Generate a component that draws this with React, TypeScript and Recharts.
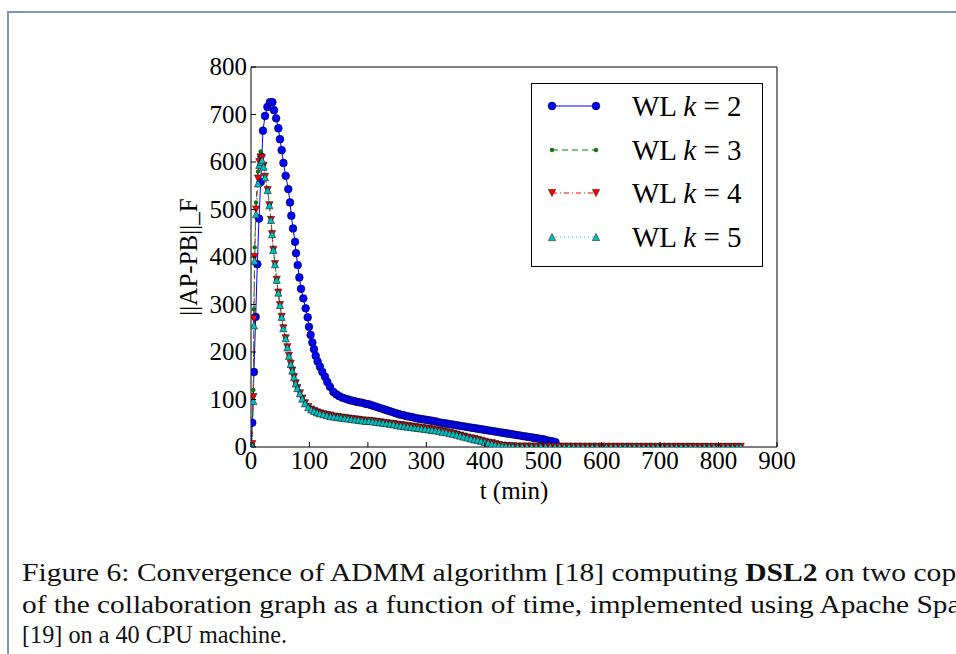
import React from 'react';
import { LineChart, Line, XAxis, YAxis, Legend } from 'recharts';

const xTicks = [0, 100, 200, 300, 400, 500, 600, 700, 800, 900];
const yTicks = [0, 100, 200, 300, 400, 500, 600, 700, 800];

const seriesK = ['2', '3', '4', '5'];

// k = 2 : [t (min), ||AP-PB||_F]
const k2: [number, number][] = [
  [0, 0], [2.2, 51], [5, 158], [8, 274], [10.8, 385], [13.7, 481], [16.6, 558], [20.5, 666], [24, 697], [28, 716],
  [32.5, 726], [36.5, 726], [39.4, 709], [43, 692], [46.8, 671], [49.6, 648], [52.5, 625], [55.5, 598], [59.4, 571], [63.8, 543],
  [66.7, 515], [69, 487], [71.9, 460], [75.3, 432], [77, 408], [79.9, 383], [82.7, 357], [85.6, 333], [89.5, 313], [93.5, 292],
  [97, 273], [99.2, 253], [102, 236], [105, 220], [107.8, 206], [110.7, 192], [114, 180], [118, 169], [122, 158], [126.6, 148],
  [130.6, 137], [135, 127], [141, 116], [146, 111], [151, 107], [156, 104], [161, 102], [166, 100], [171, 98], [176, 97],
  [181, 95], [186, 94], [191, 93], [196, 91], [201, 90], [206, 88], [211, 86], [216, 84], [221, 82], [226, 80],
  [231, 78], [236, 76], [241, 74], [246, 72], [251, 70], [256, 68], [261, 67], [266, 65], [271, 64], [276, 63],
  [281, 61], [286, 60], [291, 59], [296, 58], [301, 57], [306, 56], [311, 55], [316, 54], [321, 52], [326, 51],
  [331, 50], [336, 49], [341, 48], [346, 47], [351, 46], [356, 45], [361, 44], [366, 43], [371, 42], [376, 41],
  [381, 40], [386, 39], [391, 38], [396, 37], [401, 36], [406, 35], [411, 34], [416, 33], [421, 32], [426, 31],
  [431, 30], [436, 29], [441, 28], [446, 27], [451, 26], [456, 25], [461, 24], [466, 23], [471, 22], [476, 21],
  [481, 20], [486, 19], [491, 18], [496, 17], [501, 16], [506, 14], [511, 13], [516, 12], [521, 10],
];

// shared time stamps for k = 3, 4, 5
const tK = [
  0, 2, 4, 5, 6.3, 8.6, 12, 14.2, 16.6, 18.8,
  21.5, 24, 28.5, 31.4, 34.2, 36, 38.2, 41, 44, 46.8,
  49.6, 52.5, 55.3, 59.4, 62.2, 65, 68, 70.7, 73.6, 76.5,
  79.3, 83.8, 87.8, 92.4, 98, 103, 108, 113, 118, 124,
  130, 136, 142, 148, 154, 160, 166, 172, 178, 184,
  190, 196, 202, 208, 214, 220, 226, 232, 238, 244,
  250, 256, 262, 268, 274, 280, 286, 292, 298, 304,
  310, 316, 322, 328, 334, 340, 346, 352, 358, 364,
  370, 376, 382, 388, 394, 400, 406, 412, 418, 424,
  430, 436, 442, 448, 456, 464, 472, 480, 488, 496,
  504, 512, 520, 528, 536, 544, 552, 560, 568, 576,
  584, 592, 600, 608, 616, 624, 632, 640, 648, 656,
  664, 672, 680, 688, 696, 704, 712, 720, 728, 736,
  744, 752, 760, 768, 776, 784, 792, 800, 808, 816,
  824, 832, 838,
];

const v3 = [
  0, 8, 120, 290, 420, 515, 580, 612, 622, 615,
  595, 570, 541, 510, 478, 449, 416, 384, 352, 324,
  298, 273, 249, 228, 209, 191, 174, 160, 146, 133,
  123, 112, 101, 91, 83, 78, 75, 72, 70, 68,
  66, 65, 63, 62, 61, 60, 59, 58, 57, 56,
  56, 55, 54, 53, 52, 51, 50, 49, 48, 47,
  46, 45, 44, 43, 42, 41, 40, 39, 38, 37,
  36, 34, 33, 32, 30, 29, 27, 25, 23, 21,
  19, 17, 16, 14, 12, 10, 8, 7, 5, 4,
  3, 2, 1.4, 1.1, 1.0, 0.9, 0.9, 0.8, 0.8, 0.7,
  0.7, 0.7, 0.6, 0.6, 0.6, 0.6, 0.5, 0.5, 0.5, 0.5,
  0.5, 0.4, 0.4, 0.4, 0.4, 0.4, 0.4, 0.3, 0.3, 0.3,
  0.3, 0.3, 0.3, 0.3, 0.3, 0.3, 0.3, 0.3, 0.3, 0.3,
  0.3, 0.2, 0.2, 0.2, 0.2, 0.2, 0.2, 0.2, 0.2, 0.2,
  0.2, 0.2, 0.2,
];

const v4 = [
  0, 6, 105, 270, 400, 500, 565, 600, 610, 608,
  592, 569, 541, 509, 478, 448, 415, 385, 352, 325,
  299, 274, 250, 229, 210, 192, 175, 161, 147, 134,
  124, 113, 102, 92, 84, 79, 76, 73, 71, 69,
  67, 66, 64, 63, 62, 61, 60, 59, 58, 57,
  56, 55, 55, 54, 53, 52, 51, 50, 49, 48,
  47, 46, 45, 44, 43, 42, 41, 40, 39, 38,
  37, 35, 34, 33, 31, 30, 28, 26, 24, 22,
  20, 18, 17, 15, 13, 11, 9, 8, 6, 4,
  3, 2, 1.6, 1.3, 1.1, 1.0, 1.0, 0.9, 0.9, 0.8,
  0.8, 0.7, 0.7, 0.7, 0.6, 0.6, 0.6, 0.6, 0.5, 0.5,
  0.5, 0.5, 0.5, 0.4, 0.4, 0.4, 0.4, 0.4, 0.4, 0.3,
  0.3, 0.3, 0.3, 0.3, 0.3, 0.3, 0.3, 0.3, 0.3, 0.3,
  0.3, 0.3, 0.2, 0.2, 0.2, 0.2, 0.2, 0.2, 0.2, 0.2,
  0.2, 0.2, 0.2,
];

const v5 = [
  0, 3, 97, 256, 392, 490, 555, 594, 600, 604,
  590, 568, 541, 509, 478, 448, 415, 385, 352, 325,
  299, 274, 250, 229, 210, 192, 175, 161, 147, 134,
  124, 113, 102, 92, 84, 79, 76, 73, 71, 69,
  67, 65, 64, 63, 62, 61, 60, 59, 58, 57,
  56, 55, 55, 54, 53, 52, 51, 50, 49, 48,
  46, 45, 44, 43, 42, 41, 40, 39, 38, 37,
  36, 35, 34, 32, 31, 29, 28, 26, 24, 22,
  20, 18, 16, 15, 13, 11, 9, 7, 5, 4,
  3, 2, 1.5, 1.2, 1.0, 1.0, 0.9, 0.9, 0.8, 0.8,
  0.8, 0.7, 0.7, 0.7, 0.6, 0.6, 0.6, 0.6, 0.5, 0.5,
  0.5, 0.5, 0.5, 0.4, 0.4, 0.4, 0.4, 0.4, 0.4, 0.3,
  0.3, 0.3, 0.3, 0.3, 0.3, 0.3, 0.3, 0.3, 0.3, 0.3,
  0.3, 0.3, 0.2, 0.2, 0.2, 0.2, 0.2, 0.2, 0.2, 0.2,
  0.2, 0.2, 0.2,
];

const SERIF = '"Liberation Serif", "Times New Roman", serif';

const data2 = k2.map(([t, v]) => ({ t, v }));
const data3 = tK.map((t, i) => ({ t, v: v3[i] }));
const data4 = tK.map((t, i) => ({ t, v: v4[i] }));
const data5 = tK.map((t, i) => ({ t, v: v5[i] }));

type Shape = 'circle' | 'point' | 'down' | 'up';

function marker(shape: Shape, fill: string, cx: number, cy: number, key?: string | number) {
  if (shape === 'circle') {
    return <circle key={key} cx={cx} cy={cy} r={3.9} fill={fill} stroke="#000" strokeWidth={0.5} />;
  }
  if (shape === 'point') {
    return <circle key={key} cx={cx} cy={cy} r={2} fill={fill} stroke="#000" strokeWidth={0.3} />;
  }
  const s = 3.6;
  const pts =
    shape === 'down'
      ? `${cx - s},${cy - s} ${cx + s},${cy - s} ${cx},${cy + s}`
      : `${cx - s},${cy + s} ${cx + s},${cy + s} ${cx},${cy - s}`;
  return <polygon key={key} points={pts} fill={fill} stroke="#000" strokeWidth={0.5} />;
}

const makeDot = (shape: Shape, fill: string) => (p: any) => {
  if (p.cx == null || p.cy == null) return <g key={p.index} />;
  return marker(shape, fill, p.cx, p.cy, p.index);
};

const styles = [
  { color: '#0000ff', dash: undefined, shape: 'circle' as Shape },
  { color: '#008000', dash: '6 4', shape: 'point' as Shape },
  { color: '#ff0000', dash: '5 3 1 3', shape: 'down' as Shape },
  { color: '#00bfbf', dash: '1 3', shape: 'up' as Shape },
];

// plot box edges (px)
const PL = 251;
const PT = 67;
const PR = 777;
const PB = 447;

const BottomTick = (p: any) => (
  <g>
    <line x1={p.x} x2={p.x} y1={PB} y2={PB - 5} stroke="#000" strokeWidth={1} />
    <text x={p.x} y={PB + 22} textAnchor="middle" fontSize={25} fontFamily={SERIF} fill="#000">
      {p.payload.value}
    </text>
  </g>
);

const TopTick = (p: any) => (
  <line x1={p.x} x2={p.x} y1={PT} y2={PT + 5} stroke="#000" strokeWidth={1} />
);

const LeftTick = (p: any) => (
  <g>
    <line x1={PL} x2={PL + 5} y1={p.y} y2={p.y} stroke="#000" strokeWidth={1} />
    <text x={PL - 4} y={p.y + 8} textAnchor="end" fontSize={25} fontFamily={SERIF} fill="#000">
      {p.payload.value}
    </text>
  </g>
);

const RightTick = (p: any) => (
  <line x1={PR} x2={PR - 5} y1={p.y} y2={p.y} stroke="#000" strokeWidth={1} />
);

const XLabel = () => (
  <text x={(PL + PR) / 2} y={499} textAnchor="middle" fontSize={25} fontFamily={SERIF} fill="#000">
    t (min)
  </text>
);

const YLabel = () => (
  <text
    x={0}
    y={0}
    transform={`translate(197,${(PT + PB) / 2}) rotate(-90)`}
    textAnchor="middle"
    fontSize={25}
    fontFamily={SERIF}
    fill="#000"
  >
    ||AP-PB||_F
  </text>
);

const rowsY = [23, 67, 110, 154];

const LegendBox = () => (
  <svg width={232} height={184} style={{ display: 'block' }}>
    <rect x={0.5} y={0.5} width={231} height={183} fill="#fff" stroke="#000" strokeWidth={1} />
    {styles.map((s, i) => (
      <g key={i}>
        <line x1={21} x2={65} y1={rowsY[i]} y2={rowsY[i]} stroke={s.color} strokeWidth={1} strokeDasharray={s.dash} />
        {marker(s.shape, s.color, 21, rowsY[i])}
        {marker(s.shape, s.color, 65, rowsY[i])}
        <text x={101} y={rowsY[i] + 10} fontSize={29} fontFamily={SERIF} fill="#000">
          WL <tspan fontStyle="italic">k</tspan> = {seriesK[i]}
        </text>
      </g>
    ))}
  </svg>
);

export default function App() {
  return (
    <div
      style={{
        position: 'absolute',
        left: 0,
        top: 0,
        width: 956,
        height: 654,
        overflow: 'hidden',
        background: '#fff',
      }}
    >
      <div
        style={{
          position: 'absolute',
          left: 7,
          top: 11,
          width: 1000,
          height: 700,
          borderLeft: '2px solid #7f97b0',
          borderTop: '2px solid #7f97b0',
        }}
      />
      <LineChart
        width={956}
        height={654}
        margin={{ top: PT - 1, right: 956 - PR - 1, bottom: 654 - PB - 1, left: PL - 1 }}
        style={{ position: 'absolute', left: 0, top: 0 }}
      >
        <XAxis
          type="number"
          dataKey="t"
          domain={[0, 900]}
          ticks={xTicks}
          interval={0}
          height={1}
          tickSize={0}
          tickMargin={0}
          tick={<BottomTick />}
          axisLine={{ stroke: '#000', strokeWidth: 1 }}
          tickLine={false}
          label={<XLabel />}
          allowDataOverflow
        />
        <XAxis
          xAxisId="top"
          orientation="top"
          type="number"
          domain={[0, 900]}
          ticks={xTicks}
          interval={0}
          height={1}
          tickSize={0}
          tickMargin={0}
          tick={<TopTick />}
          axisLine={{ stroke: '#000', strokeWidth: 1 }}
          tickLine={false}
        />
        <YAxis
          type="number"
          domain={[0, 800]}
          ticks={yTicks}
          interval={0}
          width={1}
          tickSize={0}
          tickMargin={0}
          tick={<LeftTick />}
          axisLine={{ stroke: '#000', strokeWidth: 1 }}
          tickLine={false}
          label={<YLabel />}
          allowDataOverflow
        />
        <YAxis
          yAxisId="right"
          orientation="right"
          type="number"
          domain={[0, 800]}
          ticks={yTicks}
          interval={0}
          width={1}
          tickSize={0}
          tickMargin={0}
          tick={<RightTick />}
          axisLine={{ stroke: '#000', strokeWidth: 1 }}
          tickLine={false}
        />
        <Line
          data={data2}
          dataKey="v"
          type="linear"
          stroke={styles[0].color}
          strokeWidth={1}
          dot={makeDot('circle', styles[0].color)}
          activeDot={false}
          isAnimationActive={false}
        />
        <Line
          data={data3}
          dataKey="v"
          type="linear"
          stroke={styles[1].color}
          strokeWidth={1}
          strokeDasharray={styles[1].dash}
          dot={makeDot('point', styles[1].color)}
          activeDot={false}
          isAnimationActive={false}
        />
        <Line
          data={data4}
          dataKey="v"
          type="linear"
          stroke={styles[2].color}
          strokeWidth={1}
          strokeDasharray={styles[2].dash}
          dot={makeDot('down', styles[2].color)}
          activeDot={false}
          isAnimationActive={false}
        />
        <Line
          data={data5}
          dataKey="v"
          type="linear"
          stroke={styles[3].color}
          strokeWidth={1}
          strokeDasharray={styles[3].dash}
          dot={makeDot('up', styles[3].color)}
          activeDot={false}
          isAnimationActive={false}
        />
        <Legend
          layout="vertical"
          align="center"
          verticalAlign="middle"
          content={() => <LegendBox />}
          wrapperStyle={{ position: 'absolute', left: 531, top: 83, width: 232, height: 184, margin: 0, padding: 0 }}
        />
      </LineChart>
      <svg
        width={956}
        height={110}
        style={{ position: 'absolute', left: 0, top: 544 }}
        fontFamily={SERIF}
        fontSize={26}
        fill="#111"
      >
        <text x={22} y={37} textLength={967} lengthAdjust="spacingAndGlyphs">
          Figure 6: Convergence of ADMM algorithm [18] computing <tspan fontWeight="bold">DSL2</tspan> on two copies
        </text>
        <text x={22} y={69} textLength={963} lengthAdjust="spacingAndGlyphs">
          of the collaboration graph as a function of time, implemented using Apache Spark
        </text>
        <text x={22} y={99} textLength={265} lengthAdjust="spacingAndGlyphs">
          [19] on a 40 CPU machine.
        </text>
      </svg>
    </div>
  );
}
